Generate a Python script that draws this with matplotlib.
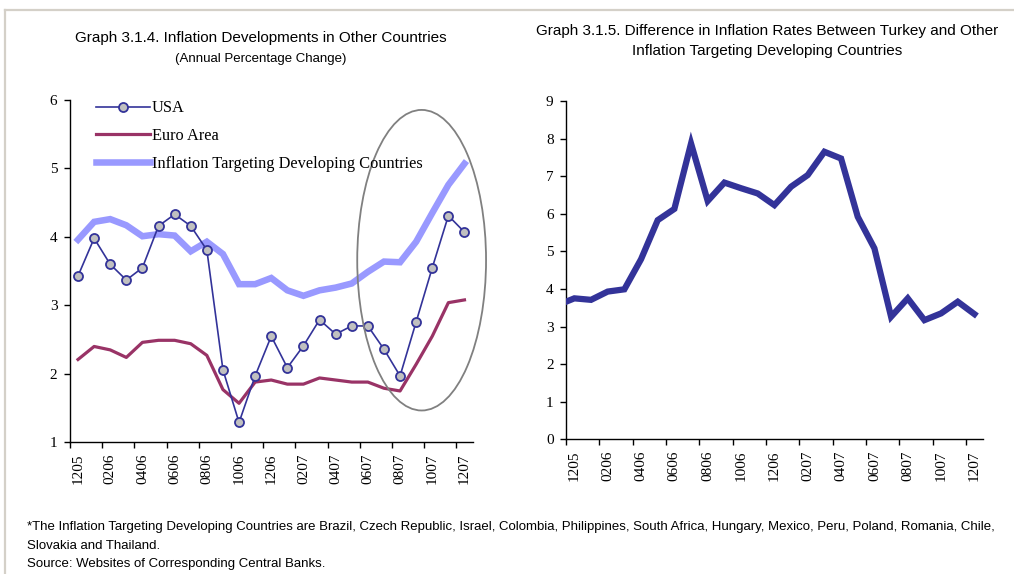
import numpy as np
import matplotlib
matplotlib.use("Agg")
import matplotlib.pyplot as plt
from matplotlib.patches import Ellipse
from matplotlib.lines import Line2D

# -----------------------------
# Data
# -----------------------------
tick_labels = ["1205", "0206", "0406", "0606", "0806", "1006", "1206",
               "0207", "0407", "0607", "0807", "1007", "1207"]

usa = [3.43, 3.98, 3.60, 3.37, 3.55, 4.16, 4.33, 4.16, 3.81, 2.06, 1.29, 1.97, 2.55,
       2.09, 2.41, 2.79, 2.58, 2.70, 2.70, 2.36, 1.97, 2.76, 3.55, 4.31, 4.07]
euro = [2.21, 2.40, 2.35, 2.24, 2.46, 2.49, 2.49, 2.44, 2.27, 1.77, 1.57, 1.88, 1.91,
        1.85, 1.85, 1.94, 1.91, 1.88, 1.88, 1.79, 1.75, 2.14, 2.55, 3.04, 3.08]
itdc = [3.96, 4.22, 4.26, 4.17, 4.01, 4.04, 4.02, 3.79, 3.93, 3.75, 3.31, 3.31, 3.40,
        3.22, 3.14, 3.22, 3.26, 3.32, 3.49, 3.64, 3.63, 3.93, 4.35, 4.76, 5.07]

# difference series starts one month earlier (1105), clipped at the axis
diff = [3.57, 3.75, 3.71, 3.93, 3.99, 4.79, 5.83, 6.13, 7.87, 6.34, 6.83, 6.68, 6.54,
        6.23, 6.72, 7.03, 7.65, 7.47, 5.92, 5.08, 3.26, 3.75, 3.17, 3.35, 3.66, 3.33]

# -----------------------------
# Style
# -----------------------------
serif = ["Liberation Serif", "DejaVu Serif"]
sans = ["Liberation Sans", "DejaVu Sans"]

NAVY = "#333399"
PLUM = "#993366"
LILAC = "#9999ff"

fig = plt.figure(figsize=(10.14, 5.74), dpi=100)

n = len(usa)
x = np.arange(n)
xd = np.arange(len(diff)) - 1


def style_axis(ax, ylim, yticks):
    ax.set_xlim(-0.5, n - 0.5)
    ax.set_ylim(*ylim)
    for s in ["top", "right"]:
        ax.spines[s].set_visible(False)
    for s in ["left", "bottom"]:
        ax.spines[s].set_linewidth(1.0)
    ax.set_yticks(yticks)
    ax.set_yticklabels([str(v) for v in yticks], fontfamily=serif, fontsize=11)
    # labels at even categories, tick marks at category boundaries
    ax.set_xticks(np.arange(0, n, 2))
    ax.set_xticklabels(tick_labels, rotation=90, fontfamily=serif, fontsize=11)
    ax.tick_params(axis="x", which="major", length=0, pad=8)
    ax.set_xticks(np.arange(-0.5, n, 2), minor=True)
    ax.tick_params(axis="x", which="minor", length=4, width=1.0, direction="out")
    ax.tick_params(axis="y", length=4, width=1.0, direction="out", pad=5)


# ============================================================
# Left: Graph 3.1.4
# ============================================================
ax1 = fig.add_axes([0.0690, 0.2294, 0.3970, 0.5964])
style_axis(ax1, (1, 6), [1, 2, 3, 4, 5, 6])

ax1.plot(x, itdc, color=LILAC, lw=4.7, solid_joinstyle="miter",
         label="Inflation Targeting Developing Countries", zorder=2)
ax1.plot(x, euro, color=PLUM, lw=2.3, label="Euro Area", zorder=3)
ax1.plot(x, usa, color=NAVY, lw=1.2, marker="o", ms=6.5, mfc="#c0c0c0",
         mec=NAVY, mew=1.3, label="USA", zorder=4)

handles, labels = ax1.get_legend_handles_labels()
order = [2, 1, 0]
leg = ax1.legend([handles[i] for i in order], [labels[i] for i in order],
                 loc="upper left", bbox_to_anchor=(0.064, 0.999), frameon=False,
                 borderpad=0, borderaxespad=0,
                 handlelength=3.3, handletextpad=0.12, labelspacing=0.72,
                 prop={"family": serif, "size": 11.8})

ell = Ellipse((21.34, 3.66), width=8.0, height=4.39, fill=False,
              edgecolor="#808080", lw=1.3, clip_on=False, zorder=5)
ax1.add_patch(ell)

fig.text(0.257, 0.933, "Graph 3.1.4. Inflation Developments in Other Countries",
         ha="center", va="center", fontfamily=sans, fontsize=11)
fig.text(0.257, 0.898, "(Annual Percentage Change)",
         ha="center", va="center", fontfamily=sans, fontsize=9.5)

# ============================================================
# Right: Graph 3.1.5
# ============================================================
ax2 = fig.add_axes([0.5582, 0.2347, 0.4110, 0.5893])
style_axis(ax2, (0, 9), list(range(10)))
ax2.plot(xd, diff, color=NAVY, lw=4.5, solid_joinstyle="miter", zorder=3)

fig.text(0.757, 0.946, "Graph 3.1.5. Difference in Inflation Rates Between Turkey and Other",
         ha="center", va="center", fontfamily=sans, fontsize=11)
fig.text(0.757, 0.911, "Inflation Targeting Developing Countries",
         ha="center", va="center", fontfamily=sans, fontsize=11)

# ============================================================
# Footnote and page frame
# ============================================================
fig.text(0.027, 0.082,
         "*The Inflation Targeting Developing Countries are Brazil, Czech Republic, Israel, "
         "Colombia, Philippines, South Africa, Hungary, Mexico, Peru, Poland, Romania, Chile,",
         ha="left", va="center", fontfamily=sans, fontsize=9.5)
fig.text(0.027, 0.049, "Slovakia and Thailand.",
         ha="left", va="center", fontfamily=sans, fontsize=9.5)
fig.text(0.027, 0.017, "Source: Websites of Corresponding Central Banks.",
         ha="left", va="center", fontfamily=sans, fontsize=9.5)

frame_col = "#d4d0c8"
fig.add_artist(Line2D([0.005, 1.0], [0.983, 0.983], color=frame_col, lw=1.6,
                      transform=fig.transFigure))
fig.add_artist(Line2D([0.005, 0.005], [0.0, 0.983], color=frame_col, lw=1.6,
                      transform=fig.transFigure))

fig.savefig("out.png", dpi=100)
